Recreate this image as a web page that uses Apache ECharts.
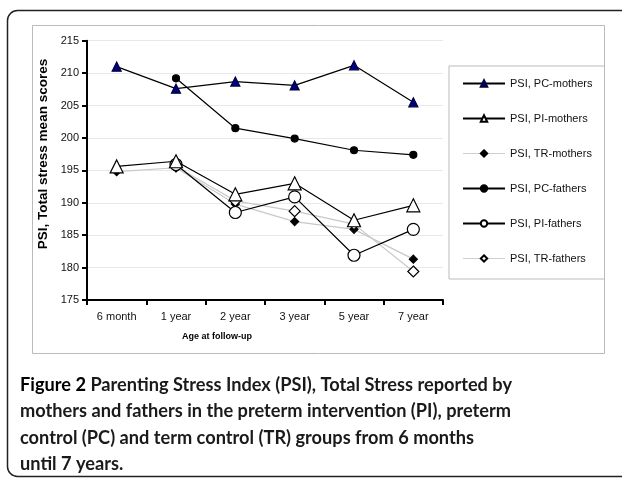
<!DOCTYPE html>
<html><head><meta charset="utf-8">
<script src="https://cdn.jsdelivr.net/npm/echarts@6/dist/echarts.min.js"></script>
<style>html,body{margin:0;padding:0;background:#fff}#c{width:622px;height:480px}</style>
</head><body><div id="c"></div>
<script>
const categories = ['6 month', '1 year', '2 year', '3 year', '5 year', '7 year'];
const pcMothers = [211.0, 207.6, 208.7, 208.1, 211.2, 205.5];
const piMothers = [195.6, 196.4, 191.3, 193.0, 187.3, 189.6];
const trMothers = [194.8, 195.4, 189.8, 187.1, 185.9, 181.3];
const pcFathers = [null, 209.2, 201.5, 199.9, 198.1, 197.4];
const piFathers = [null, 195.9, 188.5, 190.9, 181.9, 185.9];
const trFathers = [null, 195.6, 190.3, 188.7, 186.7, 179.4];
const seriesNames = ['PSI, PC-mothers', 'PSI, PI-mothers', 'PSI, TR-mothers', 'PSI, PC-fathers', 'PSI, PI-fathers', 'PSI, TR-fathers'];
const yMin = 175, yMax = 215, yStep = 5;
const yTitle = 'PSI, Total stress mean scores';
const xTitle = 'Age at follow-up';
const captionBold = 'Figure 2';
const captionLines = [
  ' Parenting Stress Index (PSI), Total Stress reported by',
  'mothers and fathers in the preterm intervention (PI), preterm',
  'control (PC) and term control (TR) groups from 6 months',
  'until 7 years.'
];

const F = 'Liberation Sans, Arial, sans-serif';
const black = '#000';
const gray = '#c8c8c8';

function mk(name, data, symbol, size, fill, border, lineColor, z) {
  return {
    name, type: 'line', data, symbol, symbolSize: size, z,
    showAllSymbol: true,
    lineStyle: { color: lineColor, width: 1.2 },
    itemStyle: { color: fill, borderColor: border, borderWidth: 1.2 },
    emphasis: { disabled: true },
    animation: false
  };
}

const thick = { color: black, width: 2 };
const thin = { color: '#d0d0d0', width: 1 };
const chart = echarts.init(document.getElementById('c'), null, { renderer: 'canvas' });
const capFont = 'Lato, Open Sans, sans-serif';
const cap = 'bold 18.2px ' + capFont;
chart.setOption({
  animation: false,
  backgroundColor: '#fff',
  grid: { left: 87, right: 179, top: 40.7, bottom: 180 },
  xAxis: {
    type: 'category', data: categories, boundaryGap: true,
    axisLine: { lineStyle: { color: black, width: 2 } },
    axisTick: { show: true, length: 5, lineStyle: { color: black, width: 2 } },
    axisLabel: { color: '#111', fontSize: 11, fontFamily: F, margin: 11 },
    splitLine: { show: false }
  },
  yAxis: {
    type: 'value', min: yMin, max: yMax, interval: yStep,
    axisLine: { show: true, lineStyle: { color: black, width: 2 } },
    axisTick: { show: true, length: 5, lineStyle: { color: black, width: 2 } },
    axisLabel: { color: '#111', fontSize: 11, fontFamily: F, margin: 8 },
    splitLine: { show: true, lineStyle: { color: '#e8e8e8', width: 1 } }
  },
  legend: {
    orient: 'vertical', left: 449, top: 66,
    padding: [12, 12, 15, 13], itemGap: 24, itemWidth: 42, itemHeight: 8,
    borderColor: '#bbbbbb', borderWidth: 1,
    textStyle: { fontSize: 11, fontFamily: F, color: '#111' },
    data: [
      { name: seriesNames[0], lineStyle: thick },
      { name: seriesNames[1], lineStyle: thick },
      { name: seriesNames[2], lineStyle: thin },
      { name: seriesNames[3], lineStyle: thick },
      { name: seriesNames[4], lineStyle: thick },
      { name: seriesNames[5], lineStyle: thin }
    ]
  },
  series: [
    mk(seriesNames[0], pcMothers, 'triangle', 9, '#000080', '#000040', black, 5),
    mk(seriesNames[1], piMothers, 'triangle', 13, '#fff', black, black, 5),
    mk(seriesNames[2], trMothers, 'diamond', 8, black, black, gray, 3),
    mk(seriesNames[3], pcFathers, 'circle', 7, black, black, black, 5),
    mk(seriesNames[4], piFathers, 'circle', 12, '#fff', black, black, 4),
    mk(seriesNames[5], trFathers, 'diamond', 11, '#fff', black, gray, 3)
  ],
  graphic: [
    { type: 'rect', silent: true, z: -10, shape: { x: 7.5, y: 10.5, width: 640, height: 466, r: 10 },
      style: { fill: 'none', stroke: '#222', lineWidth: 1.5 } },
    { type: 'rect', silent: true, z: -9, shape: { x: 32.5, y: 25.5, width: 572, height: 328 },
      style: { fill: 'none', stroke: '#bbbbbb', lineWidth: 1 } },
    { type: 'text', silent: true, x: 43, y: 154, rotation: Math.PI / 2,
      style: { text: yTitle, font: 'bold 13.5px ' + F, fill: '#000', align: 'center', verticalAlign: 'middle' } },
    { type: 'text', silent: true, x: 217, y: 337,
      style: { text: xTitle, font: 'bold 9px ' + F, fill: '#000', align: 'center', verticalAlign: 'middle' } },
    { type: 'text', silent: true, x: 20, y: 385,
      style: { text: '{b|' + captionBold + '}{r|' + captionLines[0] + '}', verticalAlign: 'middle',
        rich: { b: { font: cap, fill: '#000' }, r: { font: cap, fill: '#1a1a1a' } } } },
    { type: 'text', silent: true, x: 20, y: 411.5,
      style: { text: captionLines[1], font: cap, fill: '#1a1a1a', verticalAlign: 'middle' } },
    { type: 'text', silent: true, x: 20, y: 438,
      style: { text: captionLines[2], font: cap, fill: '#1a1a1a', verticalAlign: 'middle' } },
    { type: 'text', silent: true, x: 20, y: 464.5,
      style: { text: captionLines[3], font: cap, fill: '#1a1a1a', verticalAlign: 'middle' } }
  ]
});
</script></body></html>
